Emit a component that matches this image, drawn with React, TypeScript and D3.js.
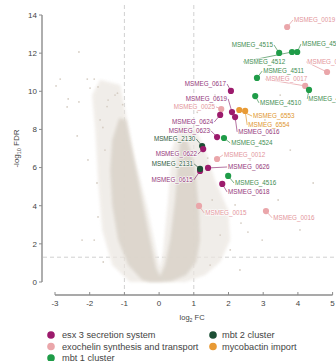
import React from "react";
import * as d3 from "d3";

// ---------- data ----------
const groups = ["esx 3 secretion system", "exochelin synthesis and transport", "mbt 1 cluster", "mbt 2 cluster", "mycobactin import"];
const groupKeys = ["esx", "exo", "mbt1", "mbt2", "myco"];
const pointColors = ["#9c1a6c", "#eaa6aa", "#1f9c48", "#1d4f35", "#e89a35"];
const labelColors = ["#94387a", "#e3959b", "#3f8e52", "#2e5a40", "#e0962e"];

const xTicks = [-3, -2, -1, 0, 1, 2, 3, 4, 5];
const yTicks = [0, 2, 4, 6, 8, 10, 12, 14];

// labelled genes: name, group, log2FC, -log10FDR
const geneNames = ["MSMEG_0019", "MSMEG_4515", "MSMEG_4512", "MSMEG_4514", "MSMEG_4511", "MSMEG_0017", "MSMEG_4509", "MSMEG_0018", "MSMEG_4510", "MSMEG_0617", "MSMEG_0619", "MSMEG_0616", "MSMEG_0025", "MSMEG_0624", "MSMEG_6553", "MSMEG_6554", "MSMEG_0623", "MSMEG_4524", "MSMEG_2130", "MSMEG_0622", "MSMEG_0012", "MSMEG_0615", "MSMEG_2131", "MSMEG_0626", "MSMEG_4516", "MSMEG_0618", "MSMEG_0015", "MSMEG_0016"];
const geneGroups = ["exo", "mbt1", "mbt1", "mbt1", "mbt1", "exo", "mbt1", "exo", "mbt1", "esx", "esx", "esx", "exo", "esx", "myco", "myco", "esx", "mbt1", "mbt2", "esx", "exo", "esx", "mbt2", "esx", "mbt1", "esx", "exo", "exo"];
const geneFC = [3.69, 3.46, 3.83, 3.98, 2.82, 4.21, 4.32, 4.84, 2.77, 2.07, 2.1, 2.19, 1.79, 1.76, 2.31, 2.48, 1.67, 1.87, 1.24, 1.27, 1.67, 1.18, 1.18, 1.41, 1.99, 1.82, 1.15, 3.08];
const geneFDR = [13.37, 12.01, 12.06, 12.06, 10.7, 10.28, 10.07, 11.01, 9.75, 10.02, 8.91, 8.65, 9.07, 8.76, 9.02, 8.97, 7.6, 7.55, 7.13, 6.97, 6.45, 5.82, 5.93, 5.98, 5.56, 5.14, 3.99, 3.72];
// label anchor positions (data units) and text anchor
const labelFC = [3.86, 3.31, 2.42, 4.09, 2.97, 3.05, 4.27, 4.24, 2.88, 1.96, 1.99, 2.25, 1.64, 1.59, 2.68, 2.54, 1.5, 2.05, 1.07, 1.12, 1.84, 1.0, 1.01, 1.96, 2.16, 1.96, 1.3, 3.26];
const labelFDR = [13.74, 12.43, 11.54, 12.48, 11.06, 10.64, 9.6, 11.54, 9.39, 10.38, 9.6, 7.87, 9.18, 8.39, 8.7, 8.23, 7.92, 7.29, 7.5, 6.71, 6.66, 5.35, 6.19, 6.03, 5.19, 4.72, 3.62, 3.36];
const labelSide = ["start", "end", "start", "start", "start", "start", "start", "start", "start", "end", "end", "start", "end", "end", "start", "start", "end", "start", "end", "end", "start", "end", "end", "start", "start", "start", "start", "start"];

// background gene cloud: dense core outline and sparse halo outline (data units)
const coreFC = [0, 0.37, 0.78, 1.07, 1.18, 1.15, 1.07, 0.95, 0.78, 0.61, 0.55, 0.46, 0.32, 0.17, 0.03, -0.09, -0.26, -0.46, -0.66, -0.84, -0.95, -1.15, -1.35, -1.41, -1.35, -1.18, -0.89, -0.49, -0.26];
const coreFDR = [0, 0.05, 0.37, 1.05, 2.2, 3.78, 5.35, 6.66, 7.55, 7.45, 6.4, 4.3, 2.2, 0.89, 0.31, 0.73, 2.2, 4.04, 5.87, 7.45, 8.5, 8.6, 7.45, 5.87, 4.04, 2.2, 0.89, 0.1, 0];
const haloFC = [0, 0.75, 1.33, 1.76, 2.05, 1.99, 1.61, 1.33, 1.04, 0.61, 0.37, 0.26, 0.12, 0.03, -0.06, -0.32, -0.69, -0.98, -1.12, -1.7, -1.93, -1.84, -1.76, -1.64, -1.35, -0.84, -0.4];
const haloFDR = [0, 0, 0.37, 1.05, 2.2, 3.78, 5.35, 6.92, 8.08, 8.23, 6.92, 4.3, 1.68, 0.73, 1.42, 3.78, 6.4, 9.02, 10.33, 10.6, 9.8, 7.97, 5.35, 2.73, 0.89, 0, 0];
// scattered individual background genes
const bgFC = [-2.31, -2.85, -2.97, -2.62, -2.65, -2.31, -2.07, -1.87, -1.99, -1.76, -2.36, -1.79, -2.22, -1.87, -1.76, -1.56, -2.05, -1.7, -1.47, -1.61, -1.27, 2.36, 2.56, 2.77, 3.43, 4.44, 2.05, 1.76, 1.53, 2.19, 2.97, 3.78, 2.62, 2.33, 1.47, 1.33, 3.05, 3.49, 1.61, 4.06, 1.47, 2.33, -1.5, -1.2, -1.05, -1.62, 0.9, 1.25, 1.4, 1.1];
const bgFDR = [12.06, 10.64, 10.28, 9.6, 9.18, 9.44, 10.64, 10.64, 10.17, 10.23, 7.66, 5.19, 2.2, 2.2, 3.41, 6.92, 6.4, 8.5, 9.54, 1.05, 9.8, 3.09, 2.62, 4.82, 4.3, 5.19, 1.68, 2.46, 4.3, 4.04, 2.2, 6.92, 6.4, 7.45, 7.97, 8.5, 8.5, 9.8, 9.8, 2.73, 0.89, 0.63, 9.2, 9.9, 9.3, 8.1, 8.4, 7.2, 6.5, 8.9];

const legendOrder = [0, 1, 2, 3, 4];

export default function App() {
  const W = 336, H = 361;
  const x = d3.scaleLinear().domain([-3, 5]).range([55, 332.6]);
  const y = d3.scaleLinear().domain([0, 14]).range([282, 15]);
  const line = d3.line<[number, number]>().x(d => x(d[0])).y(d => y(d[1])).curve(d3.curveLinearClosed);
  const core = line(coreFC.map((v, i) => [v, coreFDR[i]] as [number, number]));
  const halo = line(haloFC.map((v, i) => [v, haloFDR[i]] as [number, number]));
  const font = "Liberation Sans, Arial, sans-serif";
  const gi = (k: string) => groupKeys.indexOf(k);
  const axisCol = "#8c8c8c";
  const txtCol = "#444";

  return (
    <svg width={W} height={H} style={{ position: "absolute", left: 0, top: 0, background: "#fff" }} fontFamily={font}>
      <defs>
        <filter id="soft" x="-10%" y="-10%" width="120%" height="120%">
          <feGaussianBlur stdDeviation="1.6" />
        </filter>
      </defs>
      {/* thresholds */}
      <g stroke="#d0d0d0" strokeWidth={1} strokeDasharray="4,3">
        <line x1={x(-1)} x2={x(-1)} y1={5} y2={290} />
        <line x1={x(1)} x2={x(1)} y1={5} y2={290} />
        <line x1={43} x2={W} y1={y(1.3)} y2={y(1.3)} />
      </g>
      {/* background cloud */}
      <path d={halo || ""} fill="#ebe6e0" opacity={0.7} filter="url(#soft)" />
      <path d={core || ""} fill="#dcd5cc" opacity={0.95} filter="url(#soft)" />
      {bgFC.map((v, i) => (
        <circle key={"bg" + i} cx={x(v)} cy={y(bgFDR[i])} r={0.9} fill="#d6cec4" />
      ))}
      {/* leader lines */}
      {geneNames.map((n, i) => {
        const c = labelColors[gi(geneGroups[i])];
        const lx = x(labelFC[i]), ly = y(labelFDR[i]);
        return <line key={"l" + i} x1={x(geneFC[i])} y1={y(geneFDR[i])} x2={lx} y2={ly} stroke={c} strokeWidth={0.7} />;
      })}
      {/* points */}
      {geneNames.map((n, i) => (
        <circle key={"p" + i} cx={x(geneFC[i])} cy={y(geneFDR[i])} r={3.1} fill={pointColors[gi(geneGroups[i])]} />
      ))}
      {/* labels */}
      {geneNames.map((n, i) => (
        <text key={"t" + i} x={x(labelFC[i]) + (labelSide[i] === "start" ? 1 : -1)} y={y(labelFDR[i])} dy="0.35em" fontSize={6.3}
          textAnchor={labelSide[i]} fill={labelColors[gi(geneGroups[i])]} stroke="#fff" strokeWidth={1.2} paintOrder="stroke">{n}</text>
      ))}
      {/* y axis */}
      <line x1={42} x2={42} y1={y(14)} y2={y(0)} stroke={axisCol} strokeWidth={1.4} />
      {yTicks.map(t => (
        <g key={"yt" + t}>
          <line x1={39} x2={42} y1={y(t)} y2={y(t)} stroke={axisCol} strokeWidth={1} />
          <text x={37} y={y(t)} dy="0.35em" textAnchor="end" fontSize={8} fill={txtCol}>{t}</text>
        </g>
      ))}
      <text transform={`translate(19,${y(7)}) rotate(-90)`} textAnchor="middle" fontSize={8} fill={txtCol}>
        -log<tspan fontSize={5.5} dy="2">10</tspan><tspan dy="-2"> FDR</tspan>
      </text>
      {/* x axis */}
      <line x1={x(-3)} x2={x(5)} y1={295} y2={295} stroke={axisCol} strokeWidth={1.4} />
      {xTicks.map(t => (
        <g key={"xt" + t}>
          <line x1={x(t)} x2={x(t)} y1={292} y2={295} stroke={axisCol} strokeWidth={1} />
          <text x={x(t)} y={303} dy="0.35em" textAnchor="middle" fontSize={8} fill={txtCol}>{t}</text>
        </g>
      ))}
      <text x={x(0.95)} y={317} dy="0.35em" textAnchor="middle" fontSize={7.5} fill={txtCol}>
        log<tspan fontSize={5.2} dy="2">2</tspan><tspan dy="-2"> FC</tspan>
      </text>
      {/* legend */}
      {legendOrder.map((gIdx, k) => {
        const col = k < 3 ? 0 : 1;
        const row = k < 3 ? k : k - 3;
        const cx = col === 0 ? 51 : 213;
        const cy = 335 + row * 11.5;
        return (
          <g key={"lg" + k}>
            <circle cx={cx} cy={cy} r={3.8} fill={pointColors[gIdx]} />
            <text x={cx + (col === 0 ? 11 : 9)} y={cy} dy="0.35em" fontSize={9.2} fill={txtCol}>{groups[gIdx]}</text>
          </g>
        );
      })}
    </svg>
  );
}
